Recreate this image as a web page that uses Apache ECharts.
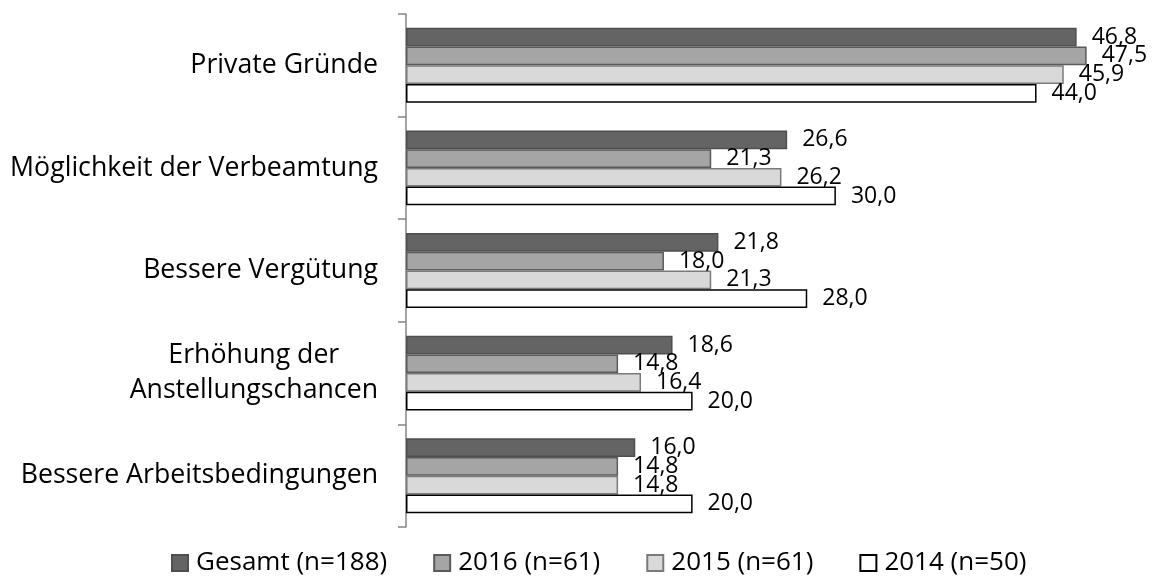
<!DOCTYPE html>
<html>
<head>
<meta charset="utf-8">
<script src="https://cdn.jsdelivr.net/npm/echarts@6/dist/echarts.min.js"></script>
<style>html,body{margin:0;padding:0;background:#fff;}#c{width:1156px;height:579px;}</style>
</head>
<body>
<div id="c"></div>
<script>
const categories = ['Private Gründe', 'Möglichkeit der Verbeamtung', 'Bessere Vergütung', 'Erhöhung der\nAnstellungschancen', 'Bessere Arbeitsbedingungen'];
const seriesNames = ['Gesamt (n=188)', '2016 (n=61)', '2015 (n=61)', '2014 (n=50)'];
const gesamt = [46.8, 26.6, 21.8, 18.6, 16.0];
const y2016 = [47.5, 21.3, 18.0, 14.8, 14.8];
const y2015 = [45.9, 26.2, 21.3, 16.4, 14.8];
const y2014 = [44.0, 30.0, 28.0, 20.0, 20.0];

const fills = ['#646464', '#a5a5a5', '#d9d9d9', '#ffffff'];
const borders = ['#4f4f4f', '#5a5a5a', '#7a7a7a', '#000000'];
const FONT = 'Open Sans';

const chart = echarts.init(document.getElementById('c'), null, {renderer: 'canvas'});
const dataSets = [gesamt, y2016, y2015, y2014];
chart.setOption({
  animation: false,
  textStyle: {fontFamily: FONT},
  grid: {left: 406, top: 14, bottom: 52, right: 33.5},
  legend: {
    top: 545, left: 166,
    itemWidth: 16, itemHeight: 16, itemGap: 46,
    icon: 'rect',
    data: seriesNames,
    textStyle: {fontFamily: FONT, fontSize: 26, color: '#000', padding: [0, 0, 0, 3]}
  },
  xAxis: {type: 'value', min: 0, max: 50, show: false},
  yAxis: {
    type: 'category', inverse: true, data: categories,
    axisLine: {show: true, lineStyle: {color: '#868686', width: 1.5}},
    axisTick: {show: true, length: 8, lineStyle: {color: '#868686', width: 1.5}},
    axisLabel: {
      margin: 28, color: '#000', fontFamily: FONT, fontSize: 26.7, lineHeight: 35,
      formatter: function (v) { return v.split('\n').map(s => '{c|' + s + '}').join('\n'); },
      rich: {c: {align: 'center', fontFamily: FONT, fontSize: 26.7, lineHeight: 35, color: '#000'}}
    }
  },
  series: dataSets.map((d, i) => ({
    name: seriesNames[i], type: 'bar', data: d,
    barCategoryGap: '27%', barGap: '0%',
    itemStyle: {color: fills[i], borderColor: borders[i], borderWidth: 1.5},
    label: {
      show: true, position: 'right', distance: 15,
      fontFamily: FONT, fontSize: 23, color: '#000',
      formatter: p => p.value.toFixed(1).replace('.', ',')
    }
  }))
});
</script>
</body>
</html>
